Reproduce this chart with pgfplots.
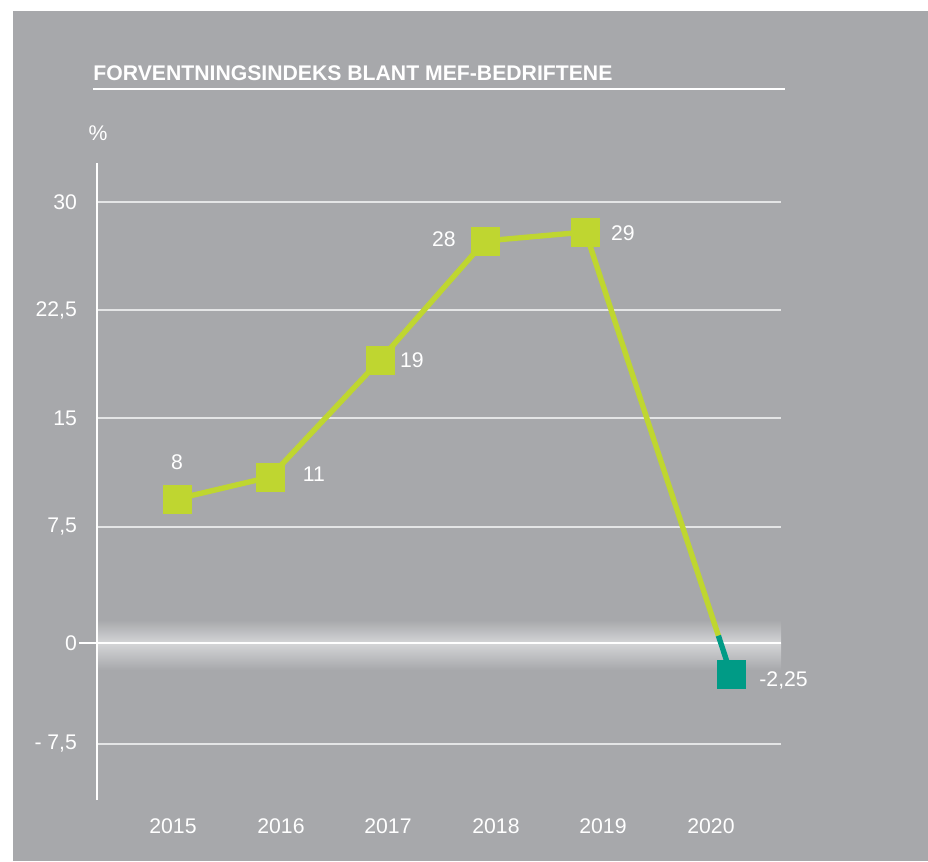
\documentclass[border=0pt]{standalone}
\usepackage{fontspec}
\setmainfont{Liberation Sans}
\usepackage{pgfplots}
\pgfplotsset{compat=1.18}
\definecolor{bgc}{HTML}{A7A8AB}
\definecolor{bandc}{HTML}{D4D5D7}
\definecolor{gridc}{HTML}{E4E5E6}
\definecolor{limec}{HTML}{BFD630}
\definecolor{tealc}{HTML}{009B86}
\begin{document}
\begin{tikzpicture}[font=\fontsize{10.6}{12}\selectfont]
\begin{axis}[
  set layers,
  scale only axis, width=342pt, height=318.5pt,
  xmin=97, xmax=781, ymin=-10.68, ymax=32.65,
  clip=false,
  axis lines=left,
  axis line style={-},
  x axis line style={draw=none},
  y axis line style={white, line width=1.3pt},
  xtick={173,281,388,496,603,711},
  xticklabels={2015,2016,2017,2018,2019,2020},
  ytick={-6.87,0,7.89,15.31,22.65,30},
  yticklabels={{- 7,5},0,{7,5},15,{22,5},30},
  major tick length=0pt,
  ymajorgrids,
  grid style={gridc, line width=1pt},
  tick label style={white},
  yticklabel style={xshift=-6.5pt},
  xticklabel style={yshift=-6pt},
]
\begin{pgfonlayer}{axis background}
  \fill[white] (axis cs:0,43.74) rectangle (axis cs:928,-14.83);
  \fill[bgc] (axis cs:13,42.99) rectangle (axis cs:928,-14.83);
  \shade[top color=bgc, bottom color=bandc] (axis cs:97,1.56) rectangle (axis cs:781,0);
  \shade[top color=bandc, bottom color=bgc] (axis cs:97,0) rectangle (axis cs:781,-1.84);
\end{pgfonlayer}
\draw[white, line width=1.4pt] (axis cs:79,0) -- (axis cs:781,0);

\addplot[limec, line width=2.7pt] coordinates {(177,9.80) (270,11.29) (380,19.25) (485,27.35) (585.5,27.96) (718.4,0.5)};
\addplot[tealc, line width=2.7pt] coordinates {(718.4,0.5) (731,-2.11)};
\addplot[only marks, mark=square*, mark size=7pt, color=limec, fill=limec] coordinates {(177,9.80) (270,11.29) (380,19.25) (485,27.35) (585.5,27.96)};
\addplot[only marks, mark=square*, mark size=7pt, color=tealc, fill=tealc] coordinates {(731,-2.11)};

\node[white] at (axis cs:177,12.31) {8};
\node[white] at (axis cs:314,11.5) {11};
\node[white] at (axis cs:412,19.25) {19};
\node[white] at (axis cs:444,27.48) {28};
\node[white] at (axis cs:623,27.89) {29};
\node[white, anchor=west, inner sep=0pt] at (axis cs:759,-2.52) {-2,25};
\node[white] at (axis cs:98,34.7) {\%};
\node[white, anchor=west, inner sep=0pt, font=\fontsize{10.6}{12}\selectfont\bfseries] at (axis cs:93,38.78) {FORVENTNINGSINDEKS BLANT MEF-BEDRIFTENE};
\draw[white, line width=0.8pt] (axis cs:93,37.69) -- (axis cs:785,37.69);
\end{axis}
\end{tikzpicture}
\end{document}
